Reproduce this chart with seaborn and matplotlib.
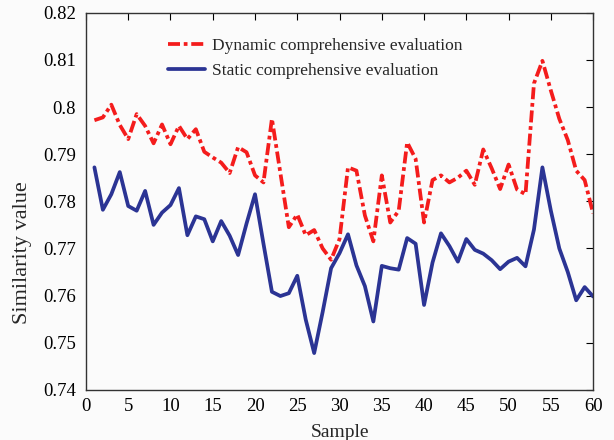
import numpy as np
import pandas as pd
import seaborn as sns
import matplotlib
matplotlib.use("Agg")
import matplotlib.pyplot as plt

samples = list(range(1, 61))
dynamic = [0.7972, 0.7978, 0.8005, 0.7962, 0.7932, 0.7985, 0.7960, 0.7923, 0.7963, 0.7921,
           0.7960, 0.7932, 0.7953, 0.7905, 0.7893, 0.7882, 0.7860, 0.7915, 0.7904, 0.7855,
           0.7840, 0.7975, 0.7860, 0.7745, 0.7772, 0.7728, 0.7739, 0.7700, 0.7676, 0.7720,
           0.7872, 0.7865, 0.7770, 0.7715, 0.7855, 0.7755, 0.7780, 0.7925, 0.7890, 0.7755,
           0.7845, 0.7855, 0.7840, 0.7850, 0.7865, 0.7835, 0.7910, 0.7870, 0.7826, 0.7878,
           0.7825, 0.7815, 0.8050, 0.8098, 0.8035, 0.7975, 0.7930, 0.7865, 0.7845, 0.7774]
static = [0.7872, 0.7782, 0.7815, 0.7862, 0.7790, 0.7780, 0.7822, 0.7750, 0.7776, 0.7792,
          0.7828, 0.7728, 0.7768, 0.7762, 0.7715, 0.7758, 0.7727, 0.7686, 0.7753, 0.7815,
          0.7710, 0.7608, 0.7599, 0.7605, 0.7642, 0.7549, 0.7478, 0.7565, 0.7658, 0.7690,
          0.7730, 0.7664, 0.7620, 0.7545, 0.7663, 0.7658, 0.7655, 0.7722, 0.7710, 0.7580,
          0.7670, 0.7732, 0.7705, 0.7672, 0.7720, 0.7697, 0.7689, 0.7675, 0.7656, 0.7672,
          0.7680, 0.7662, 0.7740, 0.7872, 0.7780, 0.7700, 0.7650, 0.7590, 0.7618, 0.7598]
labels = ["Dynamic comprehensive evaluation", "Static comprehensive evaluation"]
x_ticks = list(range(0, 61, 5))
y_ticks = [0.74, 0.75, 0.76, 0.77, 0.78, 0.79, 0.80, 0.81, 0.82]
y_tick_labels = ["0.74", "0.75", "0.76", "0.77", "0.78", "0.79", "0.8", "0.81", "0.82"]

sns.set_style("white")
plt.rcParams["font.family"] = ["Liberation Serif", "DejaVu Serif"]

df = pd.DataFrame({"Sample": samples, "dyn": dynamic, "sta": static})

fig = plt.figure(figsize=(6.14, 4.40), dpi=100)
fig.patch.set_facecolor("#fbfbfb")
ax = fig.add_axes([0.140, 0.114, 0.826, 0.857])
ax.set_facecolor("#fbfbfb")

sns.lineplot(data=df, x="Sample", y="dyn", ax=ax, color="#f41c1c", lw=2.7,
             linestyle=(0, (3.2, 1.0, 1.0, 1.0)), label=labels[0])
sns.lineplot(data=df, x="Sample", y="sta", ax=ax, color="#2b3494", lw=2.7,
             linestyle="-", label=labels[1])

ax.set_xlim(0, 60)
ax.set_ylim(0.74, 0.82)
ax.set_xticks(x_ticks)
ax.set_yticks(y_ticks)
ax.set_yticklabels(y_tick_labels)
ax.tick_params(direction="in", length=5, width=0.8, labelsize=13.5, colors="black",
               top=True, right=True)
ax.tick_params(axis="y", pad=7)
ax.tick_params(axis="x", pad=6)
for sp in ax.spines.values():
    sp.set_color("#333333")
    sp.set_linewidth(1.0)
ax.set_xlabel("Sample", fontsize=14)
ax.set_ylabel("Similarity value", fontsize=16)
ax.xaxis.set_label_coords(0.5, -0.09)
ax.yaxis.set_label_coords(-0.107, 0.365)

leg = ax.legend(loc="upper left", bbox_to_anchor=(0.130, 0.976), frameon=False,
                fontsize=12.5, handlelength=2.15, handletextpad=0.4, labelspacing=0.55)

fig.savefig("out.png", dpi=100, facecolor=fig.get_facecolor())
